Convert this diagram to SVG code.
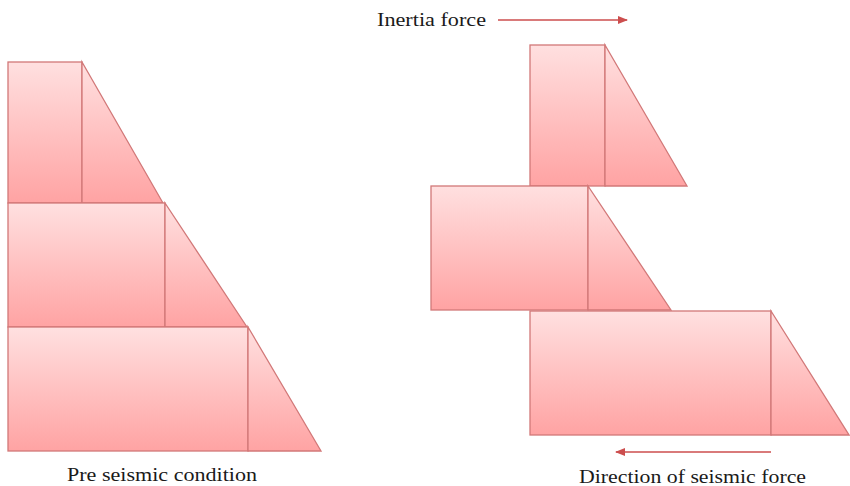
<svg xmlns="http://www.w3.org/2000/svg" width="850" height="486" viewBox="0 0 850 486">
<defs>
<linearGradient id="g" x1="0" y1="0" x2="0" y2="1">
<stop offset="0" stop-color="#ffe0e0"/>
<stop offset="1" stop-color="#ffa3a3"/>
</linearGradient>
<marker id="ah" markerWidth="10" markerHeight="8" refX="9" refY="4" orient="auto" markerUnits="userSpaceOnUse">
<path d="M0,0 L10,4 L0,8 Z" fill="#cc4e4e"/>
</marker>
<style>
.b{fill:url(#g);stroke:#d27878;stroke-width:1.3}
.t{font-family:"Liberation Serif","DejaVu Serif",serif;font-size:19.5px;fill:#1a1a1a}
.a{stroke:#cc4e4e;stroke-width:1.5;fill:none;marker-end:url(#ah)}
</style>
</defs>
<g id="pre-top">
<rect class="b" x="8" y="62" width="74" height="141"/>
<polygon class="b" points="82,62 163,203 82,203"/>
</g>
<g id="pre-mid">
<rect class="b" x="8" y="203" width="157" height="124"/>
<polygon class="b" points="165,203 247,327 165,327"/>
</g>
<g id="pre-bot">
<rect class="b" x="8" y="327" width="240" height="124"/>
<polygon class="b" points="248,327 321,451 248,451"/>
</g>
<g id="post-top">
<rect class="b" x="530" y="45" width="75" height="141"/>
<polygon class="b" points="605,45 687,186 605,186"/>
</g>
<g id="post-mid">
<rect class="b" x="431" y="186" width="157" height="124"/>
<polygon class="b" points="588,186 671,310 588,310"/>
</g>
<g id="post-bot">
<rect class="b" x="530" y="311" width="241" height="124"/>
<polygon class="b" points="771,311 849,435 771,435"/>
</g>
<g id="connectors">
<line class="a" x1="498" y1="20" x2="627" y2="20"/>
<line class="a" x1="771" y1="452" x2="616" y2="452"/>
</g>
<g id="labels">
<text class="t" x="377" y="26" textLength="109" lengthAdjust="spacingAndGlyphs">Inertia force</text>
<text class="t" x="67" y="481" textLength="190" lengthAdjust="spacingAndGlyphs">Pre seismic condition</text>
<text class="t" x="579" y="483" textLength="227" lengthAdjust="spacingAndGlyphs">Direction of seismic force</text>
</g>
</svg>
